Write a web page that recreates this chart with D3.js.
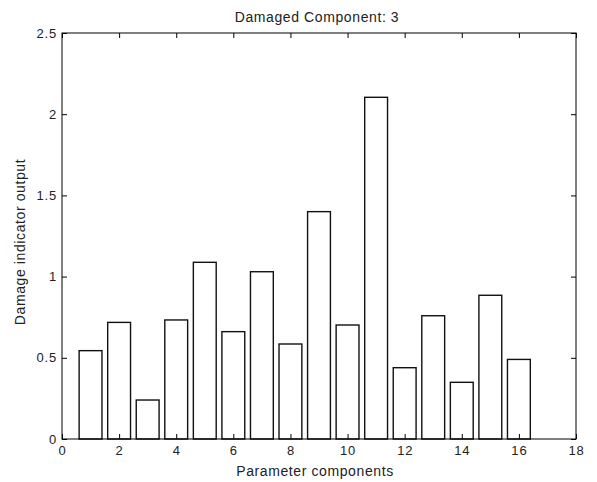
<!DOCTYPE html>
<html><head><meta charset="utf-8">
<script src="https://cdn.jsdelivr.net/npm/d3@7"></script>
<style>body{margin:0;background:#fff}svg{display:block}text{font-family:"Liberation Sans",Arial,sans-serif}</style>
</head><body>
<script>
const categories = [1,2,3,4,5,6,7,8,9,10,11,12,13,14,15,16];
const values = [0.544,0.718,0.24,0.733,1.088,0.661,1.03,0.585,1.40,0.702,2.104,0.439,0.759,0.349,0.885,0.49];
const xTicks = [0,2,4,6,8,10,12,14,16,18];
const yTicks = [0,0.5,1,1.5,2,2.5];
const title = "Damaged Component: 3";
const xLabel = "Parameter components";
const yLabel = "Damage indicator output";

const W=597,H=482, L=62,R=576,T=33,B=439;
const svg=d3.select("body").append("svg").attr("width",W).attr("height",H);
const x=d3.scaleLinear().domain([0,18]).range([L,R]);
const y=d3.scaleLinear().domain([0,2.5]).range([B,T]);
const bw = x(0.8)-x(0);

svg.append("g").selectAll("rect").data(categories).join("rect")
  .attr("x",(d)=>x(d)-bw/2).attr("width",bw)
  .attr("y",(d,i)=>y(values[i])).attr("height",(d,i)=>B-y(values[i]))
  .attr("fill","#fff").attr("stroke","#111").attr("stroke-width",1.4);

const fmt=d=>String(d);
function styleAxis(g){g.select(".domain").remove();g.selectAll("line").attr("stroke","#000");g.selectAll("text").attr("font-size",13).attr("letter-spacing","0.8px").attr("fill","#222");}
svg.append("g").attr("transform",`translate(0,${B})`).call(d3.axisBottom(x).tickValues(xTicks).tickFormat(fmt).tickSizeInner(-5).tickSizeOuter(0).tickPadding(7)).call(styleAxis);
svg.append("g").attr("transform",`translate(0,${T})`).call(d3.axisTop(x).tickValues(xTicks).tickFormat("").tickSizeInner(-5).tickSizeOuter(0)).call(styleAxis);
svg.append("g").attr("transform",`translate(${L},0)`).call(d3.axisLeft(y).tickValues(yTicks).tickFormat(fmt).tickSizeInner(-5).tickSizeOuter(0).tickPadding(5)).call(styleAxis);
svg.append("g").attr("transform",`translate(${R},0)`).call(d3.axisRight(y).tickValues(yTicks).tickFormat("").tickSizeInner(-5).tickSizeOuter(0)).call(styleAxis);
svg.append("rect").attr("x",L).attr("y",T).attr("width",R-L).attr("height",B-T).attr("fill","none").attr("stroke","#000").attr("stroke-width",1);

svg.append("text").attr("x",(L+R)/2-2).attr("y",22).attr("text-anchor","middle").attr("font-size",14).attr("letter-spacing","0.6px").attr("fill","#222").text(title);
svg.append("text").attr("x",(L+R)/2-4).attr("y",476).attr("text-anchor","middle").attr("font-size",14).attr("letter-spacing","0.6px").attr("fill","#222").text(xLabel);
svg.append("text").attr("transform",`translate(25,242) rotate(-90)`).attr("text-anchor","middle").attr("font-size",14).attr("letter-spacing","0.6px").attr("fill","#222").text(yLabel);
</script>
</body></html>
